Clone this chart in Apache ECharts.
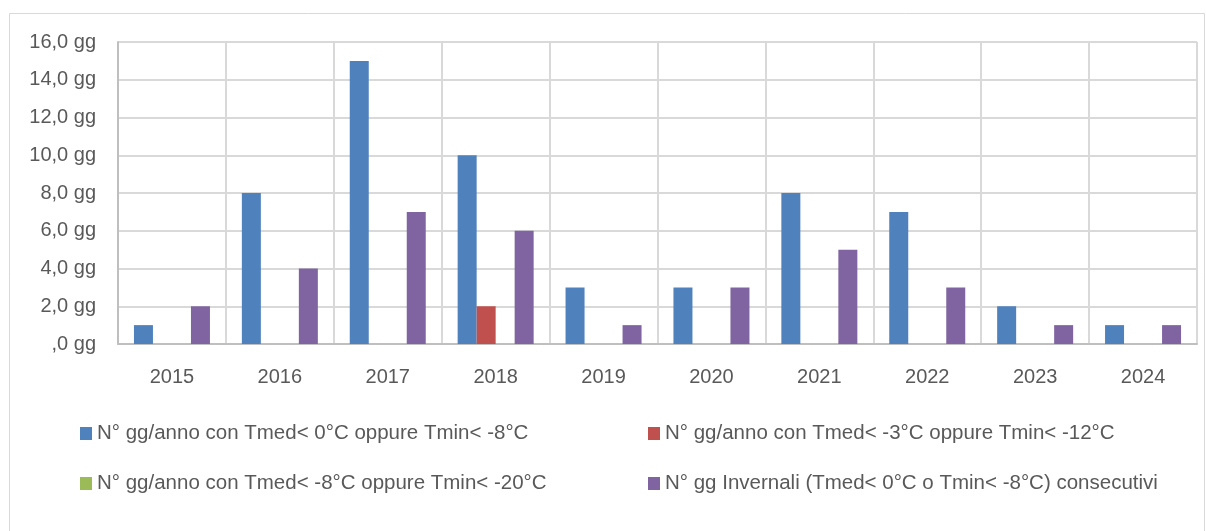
<!DOCTYPE html>
<html><head><meta charset="utf-8">
<script src="https://cdn.jsdelivr.net/npm/echarts@6/dist/echarts.min.js"></script>
<style>html,body{margin:0;padding:0;background:#fff}#c{width:1206px;height:531px}</style>
</head><body><div id="c"></div>
<script>
const years = ['2015','2016','2017','2018','2019','2020','2021','2022','2023','2024'];
const seriesNames = [
  'N° gg/anno con Tmed< 0°C oppure Tmin< -8°C',
  'N° gg/anno con Tmed< -3°C oppure Tmin< -12°C',
  'N° gg/anno con Tmed< -8°C oppure Tmin< -20°C',
  'N° gg Invernali (Tmed< 0°C o Tmin< -8°C) consecutivi'
];
const sBlue   = [1, 8, 15, 10, 3, 3, 8, 7, 2, 1];
const sRed    = [0, 0, 0, 2, 0, 0, 0, 0, 0, 0];
const sGreen  = [0, 0, 0, 0, 0, 0, 0, 0, 0, 0];
const sPurple = [2, 4, 7, 6, 1, 3, 5, 3, 1, 1];
const colors = ['#4F81BD', '#C0504D', '#9BBB59', '#8064A2'];
const yMax = 16, yStep = 2;

const font = 'Liberation Sans, Arial, sans-serif';
const textColor = '#595959';
const chart = echarts.init(document.getElementById('c'));
const data = [sBlue, sRed, sGreen, sPurple];
const legendCommon = {orient: 'vertical', top: 423, padding: 0, itemWidth: 12, itemHeight: 13, itemGap: 29, icon: 'rect',
  textStyle: {fontFamily: font, fontSize: 20.5, color: textColor}};
chart.setOption({
  animation: false,
  color: colors,
  textStyle: {fontFamily: font, color: textColor},
  graphic: [{type: 'rect', shape: {x: 9.5, y: 13.5, width: 1195, height: 540}, style: {fill: null, stroke: '#d9d9d9', lineWidth: 1}}],
  grid: {left: 118, right: 9, top: 42, bottom: 187, containLabel: false},
  legend: [
    Object.assign({data: [seriesNames[0], seriesNames[2]], left: 80}, legendCommon),
    Object.assign({data: [seriesNames[1], seriesNames[3]], left: 648}, legendCommon)
  ],
  xAxis: {
    type: 'category', data: years,
    axisLine: {lineStyle: {color: '#bfbfbf', width: 2}},
    axisTick: {show: false},
    axisLabel: {fontFamily: font, fontSize: 20, color: textColor, margin: 23},
    splitLine: {show: true, lineStyle: {color: '#d9d9d9', width: 2}}
  },
  yAxis: {
    type: 'value', min: 0, max: yMax, interval: yStep,
    axisLine: {show: true, lineStyle: {color: '#bfbfbf', width: 2}},
    axisTick: {show: false},
    axisLabel: {fontFamily: font, fontSize: 20, color: textColor, margin: 22,
      formatter: v => (v === 0 ? '' : v.toFixed(0)) + ',0 gg'},
    splitLine: {lineStyle: {color: '#d9d9d9', width: 2}}
  },
  series: seriesNames.map((n, i) => ({
    name: n, type: 'bar', data: data[i], barWidth: 19, barGap: '0%'
  }))
});
</script></body></html>
